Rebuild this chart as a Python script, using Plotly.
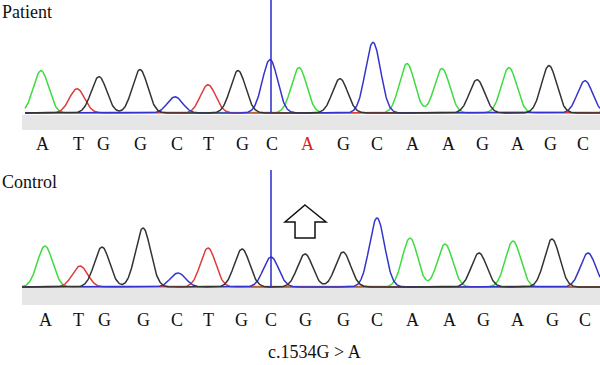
import numpy as np
import plotly.graph_objects as go

# ---- data ----
# Patient trace peaks: base, position (scan px), intensity
pat_base = ["A","T","G","G","C","T","G","C","A","G","C","A","A","G","A","G","C","T"]
pat_pos  = [41, 77, 99, 140, 175, 208, 238, 270, 299, 340, 373, 407, 442, 477, 509, 549, 585, 620]
pat_int  = [42, 24, 36, 43, 16, 28, 42, 53, 45, 34, 70, 49, 44, 33, 45, 47, 32, 30]

ctl_base = ["A","T","G","G","C","T","G","C","G","G","C","A","A","G","A","G","C"]
ctl_pos  = [45, 80, 102, 143, 178, 208, 242, 271, 305, 343, 377, 410, 445, 479, 513, 552, 588]
ctl_int  = [41, 21, 40, 59, 14, 39, 38, 30, 33, 35, 69, 49, 43, 34, 46, 48, 34]

# Base calls (tick labels)
pat_calls = ["A","T","G","G","C","T","G","C","A","G","C","A","A","G","A","G","C"]
pat_call_x = [42, 78, 103, 140, 177, 208, 242, 272, 307, 343, 377, 412, 448, 482, 517, 550, 583]
ctl_calls = ["A","T","G","G","C","T","G","C","G","G","C","A","A","G","A","G","C"]
ctl_call_x = [45, 78, 104, 143, 177, 208, 241, 271, 305, 343, 377, 412, 449, 483, 517, 552, 585]
mutation_index = 8
cursor_x = 271

colors = {"A": "#3ddc3d", "C": "#3434cc", "G": "#333333", "T": "#e03a3a"}
order = ["A", "T", "C", "G"]

W, H = 600, 365
fig = go.Figure()

def channel(xs, bases, pos, inten, ch, sigma=7.6):
    y = np.zeros_like(xs)
    for b, p, h in zip(bases, pos, inten):
        if b == ch:
            y = y + h * np.exp(-0.5 * ((xs - p) / sigma) ** 2)
    return y

xs_p = np.arange(25, 600.5, 0.5)
xs_c = np.arange(22, 600.5, 0.5)
for ch in order:
    fig.add_trace(go.Scatter(x=xs_p, y=channel(xs_p, pat_base, pat_pos, pat_int, ch),
                             mode="lines", line=dict(color=colors[ch], width=1.5),
                             xaxis="x", yaxis="y", showlegend=False, hoverinfo="skip"))
    fig.add_trace(go.Scatter(x=xs_c, y=channel(xs_c, ctl_base, ctl_pos, ctl_int, ch),
                             mode="lines", line=dict(color=colors[ch], width=1.5),
                             xaxis="x", yaxis="y2", showlegend=False, hoverinfo="skip"))

def py(pix):
    return (H - pix) / H

# patient axis: baseline at pixel 113, top at 0
fig.update_layout(
    width=W, height=H, margin=dict(l=0, r=0, t=0, b=0),
    paper_bgcolor="white", plot_bgcolor="rgba(0,0,0,0)",
    xaxis=dict(range=[0, 600], visible=False, domain=[0, 1]),
    yaxis=dict(range=[-1, 112], domain=[py(114), 1], visible=False),
    yaxis2=dict(range=[-1, 116], domain=[py(288), py(171)], visible=False, anchor="x"),
    font=dict(family="Liberation Serif", color="#111111"),
)

shapes = []
# gray bands
shapes.append(dict(type="rect", xref="paper", yref="paper", x0=22/600, x1=1,
                   y0=py(130), y1=py(115), fillcolor="#e6e6e6", line=dict(width=0), layer="below"))
shapes.append(dict(type="rect", xref="paper", yref="paper", x0=22/600, x1=1,
                   y0=py(305), y1=py(288), fillcolor="#e6e6e6", line=dict(width=0), layer="below"))
# cursor lines
shapes.append(dict(type="line", xref="x", yref="paper", x0=cursor_x, x1=cursor_x,
                   y0=py(113), y1=1, line=dict(color="#2a2ad0", width=1.5)))
shapes.append(dict(type="line", xref="x", yref="paper", x0=cursor_x, x1=cursor_x,
                   y0=py(287), y1=py(170), line=dict(color="#2a2ad0", width=1.5)))
# open arrow
ax = [305, 326, 315, 315, 295, 295, 285]
ay = [205, 222, 222, 238, 238, 222, 222]
path = "M " + " L ".join(f"{x/600:.4f},{py(y):.4f}" for x, y in zip(ax, ay)) + " Z"
shapes.append(dict(type="path", xref="paper", yref="paper", path=path,
                   fillcolor="white", line=dict(color="#111111", width=1.5)))
fig.update_layout(shapes=shapes)

ann = []
for i, (c, x) in enumerate(zip(pat_calls, pat_call_x)):
    ann.append(dict(x=x, y=py(144), xref="x", yref="paper", text=c, showarrow=False,
                    font=dict(size=18, color="#e02020" if i == mutation_index else "#111111"),
                    xanchor="center", yanchor="middle"))
for c, x in zip(ctl_calls, ctl_call_x):
    ann.append(dict(x=x, y=py(320), xref="x", yref="paper", text=c, showarrow=False,
                    font=dict(size=18, color="#111111"), xanchor="center", yanchor="middle"))
ann.append(dict(x=0, y=py(12), xref="paper", yref="paper", text="Patient", showarrow=False,
                font=dict(size=18), xanchor="left", yanchor="middle"))
ann.append(dict(x=0, y=py(182), xref="paper", yref="paper", text="Control", showarrow=False,
                font=dict(size=18), xanchor="left", yanchor="middle"))
ann.append(dict(x=314/600, y=py(352), xref="paper", yref="paper", text="c.1534G > A", showarrow=False,
                font=dict(size=18), xanchor="center", yanchor="middle"))
fig.update_layout(annotations=ann)

fig.write_html("out.html", config={"displayModeBar": False},
               post_script="document.body.style.margin='0';document.body.style.overflow='hidden';")
